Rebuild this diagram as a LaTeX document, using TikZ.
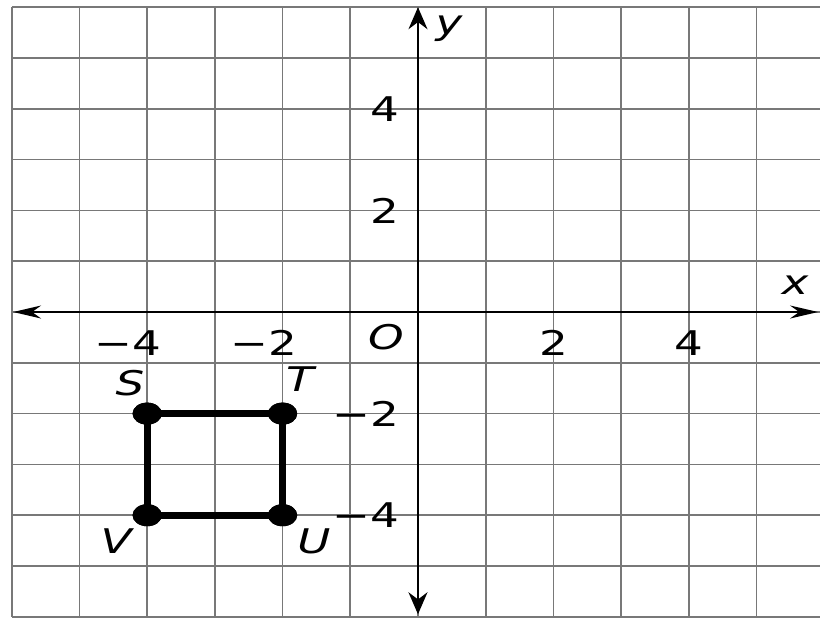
\documentclass[tikz,border=0pt]{standalone}
\usepackage{fontspec}
\setmainfont{DejaVu Sans}
\usetikzlibrary{arrows.meta}
\definecolor{gridc}{RGB}{120,120,120}
\begin{document}
\begin{tikzpicture}[x=67.7pt,y=50.8pt,
  gridline/.style={draw=gridc,line width=1.7pt},
  axis/.style={draw=black,line width=1.8pt},
  lab/.style={font=\fontsize{34}{34}\selectfont,xscale=1.33,inner sep=0pt},
  vlab/.style={font=\fontsize{34}{34}\selectfont\itshape,xscale=1.33,inner sep=0pt},
  dot/.style={circle,fill=black,minimum size=22pt,inner sep=0pt,xscale=1.33},
  side/.style={draw=black,line width=7pt}]
\useasboundingbox (-6.174,-6.024) rectangle (5.938,6.142);
\fill[white] (-6.174,-6.024) rectangle (5.938,6.142);
% grid
\foreach \i in {-6,...,5} \draw[gridline] (\i,-6) -- (\i,6);
\foreach \j in {-6,...,6} \draw[gridline] (-6,\j) -- (5.938,\j);
% axes
\coordinate (xl) at (-5.98,0);
\coordinate (xr) at (5.91,0);
\coordinate (yb) at (0,-5.95);
\coordinate (yt) at (0,6.0);
\draw[axis,{Stealth[length=28pt,width=13pt]}-{Stealth[length=28pt,width=13pt]}] (xl) -- (xr);
\draw[axis,{Stealth[length=22pt,width=19pt]}-{Stealth[length=22pt,width=19pt]}] (yb) -- (yt);
% axis labels
\node[vlab] (xlab) at (5.569,0.53) {x};
\node[vlab] (ylab) at (0.458,5.57) {y};
\node[vlab] (olab) at (-0.473,-0.49) {O};
% x tick labels
\node[lab] (xm4) at (-4,-0.61) {\llap{−}4};
\node[lab] (xm2) at (-2,-0.61) {\llap{−}2};
\node[lab] (xp2) at (2,-0.61) {2};
\node[lab] (xp4) at (4,-0.61) {4};
% y tick labels
\node[lab] (yp4) at (-0.487,4) {4};
\node[lab] (yp2) at (-0.487,2) {2};
\node[lab] (ym2) at (-0.487,-2) {\llap{−}2};
\node[lab] (ym4) at (-0.487,-4) {\llap{−}4};
% square
\node[dot] (S) at (-4,-2) {};
\node[dot] (T) at (-2,-2) {};
\node[dot] (U) at (-2,-4) {};
\node[dot] (V) at (-4,-4) {};
\draw[side] (S.center) -- (T.center) -- (U.center) -- (V.center) -- cycle;
\node[dot] at (S) {};
\node[dot] at (T) {};
\node[dot] at (U) {};
\node[dot] at (V) {};
% vertex labels
\node[vlab] (Slab) at (-4.254,-1.398) {S};
\node[vlab] (Tlab) at (-1.743,-1.319) {T};
\node[vlab] (Vlab) at (-4.461,-4.508) {V};
\node[vlab] (Ulab) at (-1.536,-4.508) {U};
\end{tikzpicture}
\end{document}
